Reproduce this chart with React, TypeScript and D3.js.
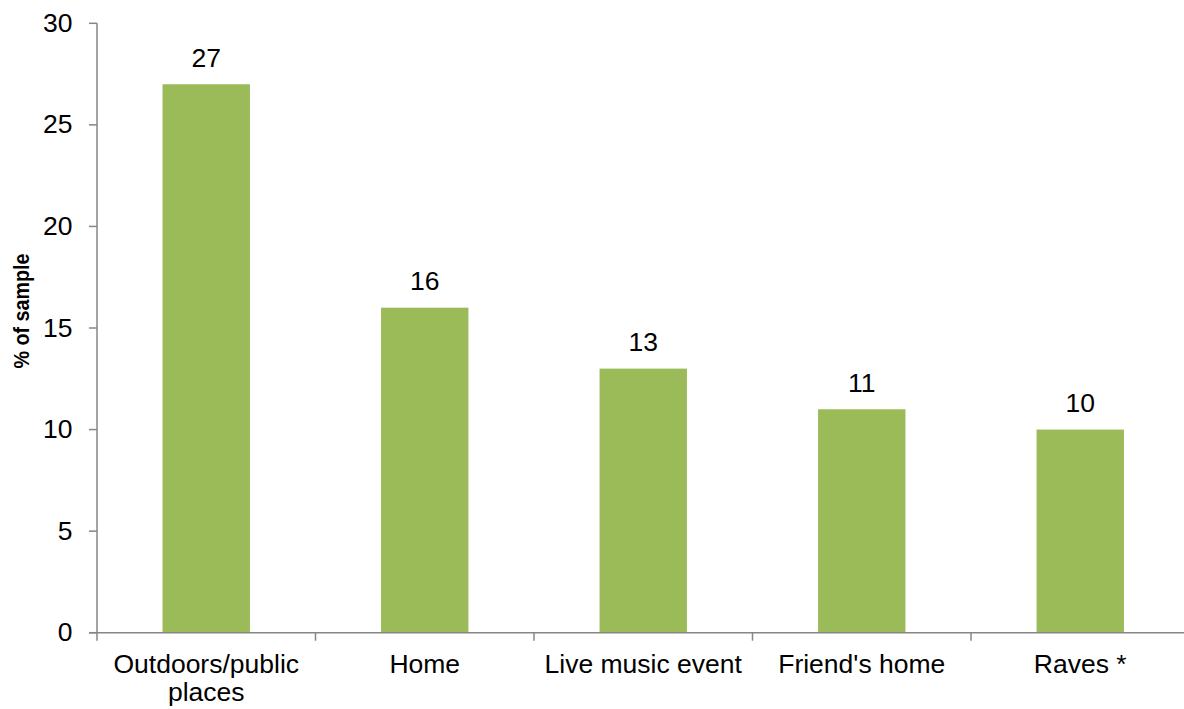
import React from "react";
import * as d3 from "d3";

const categories: string[][] = [
  ["Outdoors/public", "places"],
  ["Home"],
  ["Live music event"],
  ["Friend's home"],
  ["Raves *"],
];
const values: number[] = [27, 16, 13, 11, 10];
const yTicks: number[] = [0, 5, 10, 15, 20, 25, 30];
const yTitle = "% of sample";

export default function App() {
  const W = 1184, H = 709;
  const x0 = 97, x1 = 1189.5;
  const y = d3.scaleLinear().domain([0, 30]).range([632.7, 23.3]);
  const keys = categories.map((_, i) => String(i));
  const x = d3.scaleBand().domain(keys).range([x0, x1]).paddingInner(0.6).paddingOuter(0.3);
  const band = d3.scaleBand().domain(keys).range([x0, x1]);
  const axisColor = "#868686";
  const font = "'Liberation Sans', Arial, sans-serif";
  const fs = 26.5;
  return (
    <svg width={W} height={H} style={{ position: "absolute", left: 0, top: 0 }} fontFamily={font}>
      <rect width={W} height={H} fill="#fff" />
      {values.map((v, i) => (
        <g key={i}>
          <rect x={x(String(i))} y={y(v)} width={x.bandwidth()} height={y(0) - y(v)} fill="#9BBB59" />
          <text x={x(String(i))! + x.bandwidth() / 2} y={y(v) - 17.5} textAnchor="middle" fontSize={fs} fill="#000">{v}</text>
        </g>
      ))}
      <line x1={x0} x2={x0} y1={y(30)} y2={y(0)} stroke={axisColor} strokeWidth={1.5} />
      {yTicks.map((t) => (
        <g key={t}>
          <line x1={x0 - 8} x2={x0} y1={y(t)} y2={y(t)} stroke={axisColor} strokeWidth={1.5} />
          <text x={72.5} y={y(t) + 8.5} textAnchor="end" fontSize={fs} fill="#000">{t}</text>
        </g>
      ))}
      <line x1={x0 - 8} x2={x1} y1={y(0)} y2={y(0)} stroke={axisColor} strokeWidth={1.5} />
      {keys.map((k) => (
        <line key={k} x1={band(k)!} x2={band(k)!} y1={y(0)} y2={y(0) + 8} stroke={axisColor} strokeWidth={1.5} />
      ))}
      {categories.map((lines, i) => (
        <text key={i} textAnchor="middle" fontSize={fs} fill="#000">
          {lines.map((l, j) => (
            <tspan key={j} x={band(String(i))! + band.bandwidth() / 2} y={673 + j * 28}>{l}</tspan>
          ))}
        </text>
      ))}
      <text transform={`translate(29, 311) rotate(-90)`} textAnchor="middle" fontSize={22.5} fontWeight="bold" fill="#000"
        textLength={115} lengthAdjust="spacingAndGlyphs">{yTitle}</text>
    </svg>
  );
}
